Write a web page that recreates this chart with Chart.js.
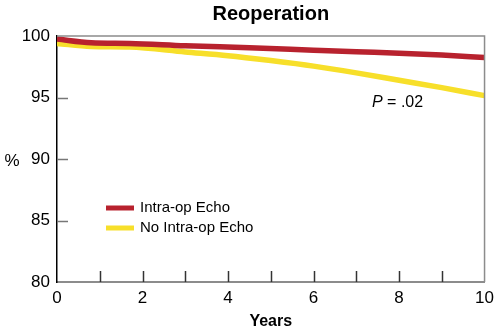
<!DOCTYPE html>
<html>
<head>
<meta charset="utf-8">
<script src="https://cdn.jsdelivr.net/npm/chart.js@4"></script>
<style>
  html, body { margin: 0; padding: 0; background: #fff; }
  #wrap { width: 500px; height: 331px; }
</style>
</head>
<body>
<div id="wrap"><canvas id="chart"></canvas></div>
<script>
const TITLE = "Reoperation";
const X_TITLE = "Years";
const Y_TITLE = "%";
const P_NOTE = ["P", " = .02"];

const ECHO_YEARS = [0, 0.8, 1.7, 3, 4.5, 6, 7, 8, 9, 10];
const ECHO_VALUES = [99.75, 99.45, 99.4, 99.2, 99.05, 98.85, 98.72, 98.6, 98.45, 98.25];

const NO_ECHO_YEARS = [0, 0.8, 1.7, 3, 4, 5, 6, 7, 8, 9, 10];
const NO_ECHO_VALUES = [99.4, 99.15, 99.1, 98.7, 98.4, 98.0, 97.55, 97.0, 96.4, 95.8, 95.15];

const SERIES_LABELS = ["Intra-op Echo", "No Intra-op Echo"];
const SERIES_COLORS = ["#b8222e", "#f7df2a"];

const FONT = "'Liberation Sans', Arial, Helvetica, sans-serif";

const toPoints = (xs, ys) => xs.map((x, i) => ({ x, y: ys[i] }));

const decor = {
  id: "decor",
  afterDraw(chart) {
    const { ctx, chartArea: a, scales: { x, y } } = chart;
    ctx.save();

    // top and right frame
    ctx.strokeStyle = "#8c8c8c";
    ctx.lineWidth = 1.5;
    ctx.beginPath();
    ctx.moveTo(a.left, a.top);
    ctx.lineTo(a.right, a.top);
    ctx.lineTo(a.right, a.bottom);
    ctx.stroke();

    // inward tick marks
    ctx.strokeStyle = "#777";
    ctx.lineWidth = 1.5;
    y.ticks.forEach((t) => {
      if (t.value <= y.min || t.value >= y.max) return;
      const py = Math.round(y.getPixelForValue(t.value)) + 0.5;
      ctx.beginPath();
      ctx.moveTo(a.left, py);
      ctx.lineTo(a.left + 11, py);
      ctx.stroke();
    });
    ctx.strokeStyle = "#333";
    x.ticks.forEach((t) => {
      if (t.value <= x.min || t.value >= x.max) return;
      const px = Math.round(x.getPixelForValue(t.value)) + 0.5;
      ctx.beginPath();
      ctx.moveTo(px, a.bottom);
      ctx.lineTo(px, a.bottom - 11);
      ctx.stroke();
    });

    // titles
    ctx.fillStyle = "#000";
    ctx.textAlign = "center";
    ctx.textBaseline = "middle";
    ctx.font = "bold 20px " + FONT;
    ctx.fillText(TITLE, (a.left + a.right) / 2, 14);
    ctx.font = "bold 16px " + FONT;
    ctx.fillText(X_TITLE, (a.left + a.right) / 2, 322);
    ctx.font = "17px " + FONT;
    ctx.fillText(Y_TITLE, 12, 161);

    // P value note
    ctx.textAlign = "left";
    ctx.font = "italic 16px " + FONT;
    ctx.fillText(P_NOTE[0], 372, 103);
    const pw = ctx.measureText(P_NOTE[0]).width;
    ctx.font = "16px " + FONT;
    ctx.fillText(P_NOTE[1], 372 + pw, 103);

    // legend
    chart.data.datasets.forEach((ds, i) => {
      const ly = 208 + i * 20;
      ctx.strokeStyle = ds.borderColor;
      ctx.lineWidth = 5;
      ctx.beginPath();
      ctx.moveTo(106, ly);
      ctx.lineTo(134, ly);
      ctx.stroke();
      ctx.fillStyle = "#000";
      ctx.font = "15px " + FONT;
      ctx.fillText(ds.label, 140, ly);
    });

    ctx.restore();
  },
};

new Chart(document.getElementById("chart"), {
  type: "line",
  data: {
    datasets: [
      {
        label: SERIES_LABELS[0],
        data: toPoints(ECHO_YEARS, ECHO_VALUES),
        borderColor: SERIES_COLORS[0],
        borderWidth: 5.5,
        pointRadius: 0,
        cubicInterpolationMode: "monotone",
      },
      {
        label: SERIES_LABELS[1],
        data: toPoints(NO_ECHO_YEARS, NO_ECHO_VALUES),
        borderColor: SERIES_COLORS[1],
        borderWidth: 5.5,
        pointRadius: 0,
        cubicInterpolationMode: "monotone",
      },
    ],
  },
  options: {
    responsive: true,
    maintainAspectRatio: false,
    animation: false,
    layout: { padding: { top: 36, right: 15, left: 0, bottom: 0 } },
    plugins: {
      legend: { display: false },
      title: { display: false },
      tooltip: { enabled: false },
    },
    scales: {
      x: {
        type: "linear",
        min: 0,
        max: 10,
        afterFit: (s) => { s.height = 49; },
        grid: { drawOnChartArea: false, drawTicks: false },
        border: { color: "#8c8c8c", width: 2 },
        ticks: {
          stepSize: 1,
          padding: 6,
          color: "#000",
          font: { family: FONT, size: 17 },
          maxRotation: 0,
          autoSkip: false,
          callback: (v) => (v % 2 === 0 ? String(v) : ""),
        },
      },
      y: {
        min: 80,
        max: 100,
        afterFit: (s) => { s.width = 57; },
        grid: { drawOnChartArea: false, drawTicks: false },
        border: { color: "#000", width: 1.5 },
        ticks: {
          stepSize: 5,
          padding: 7,
          color: "#000",
          font: { family: FONT, size: 17 },
        },
      },
    },
  },
  plugins: [decor],
});
</script>
</body>
</html>
